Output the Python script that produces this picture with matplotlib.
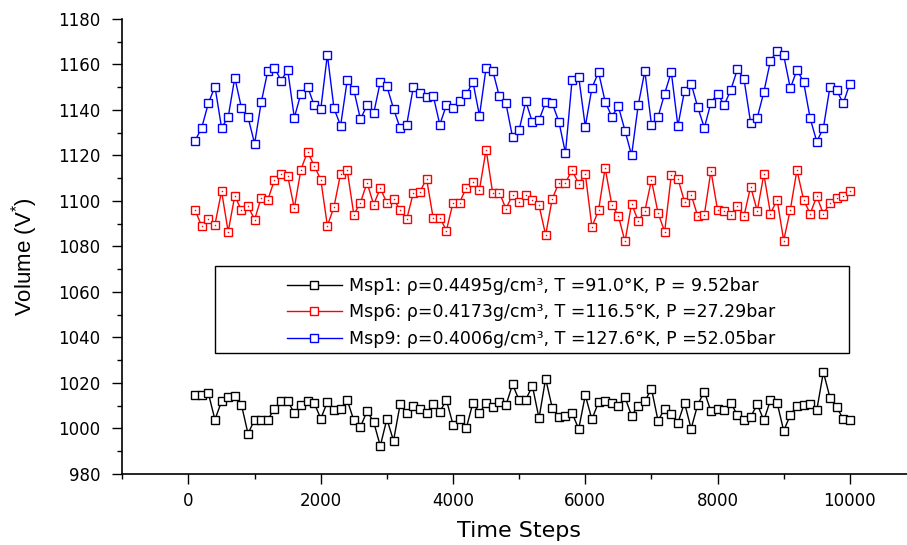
import matplotlib
matplotlib.use("Agg")
import matplotlib.pyplot as plt
from matplotlib.ticker import MultipleLocator
from matplotlib.patches import Rectangle

plt.rcParams['font.family'] = ['DejaVu Sans']
plt.rcParams['mathtext.fontset'] = 'custom'
plt.rcParams['mathtext.rm'] = 'Liberation Sans'
plt.rcParams['mathtext.it'] = 'Liberation Sans:italic'

# time steps (every 100 steps)
steps = list(range(100, 10001, 100))

msp1 = [1014.6, 1014.6, 1015.5, 1003.9, 1011.9, 1014.0, 1014.4, 1010.5, 997.7, 1003.9,
        1003.9, 1003.9, 1008.7, 1012.1, 1012.1, 1006.7, 1010.2, 1012.1, 1011.3, 1004.3,
        1011.6, 1008.1, 1008.6, 1012.5, 1003.6, 1000.7, 1007.6, 1002.9, 992.3, 1004.2,
        994.6, 1010.6, 1006.7, 1009.9, 1008.4, 1006.8, 1010.9, 1007.4, 1012.5, 1001.7,
        1004.2, 1000.1, 1011.2, 1006.8, 1011.2, 1009.3, 1011.6, 1010.2, 1019.4, 1012.4,
        1012.7, 1018.7, 1004.5, 1021.9, 1009.1, 1005.1, 1005.6, 1006.8, 999.8, 1014.6,
        1004.0, 1011.6, 1012.2, 1011.1, 1010.0, 1013.7, 1005.6, 1010.0, 1011.9, 1017.5,
        1003.4, 1008.7, 1006.5, 1002.4, 1011.3, 999.9, 1010.5, 1016.2, 1007.5, 1008.7,
        1008.1, 1011.3, 1005.8, 1003.6, 1005.1, 1010.6, 1003.6, 1012.5, 1011.3, 999.0,
        1005.9, 1010.0, 1010.5, 1010.8, 1008.1, 1024.8, 1013.5, 1009.3, 1004.3, 1003.9]

msp6 = [1096.0, 1088.9, 1092.1, 1089.6, 1104.3, 1086.5, 1102.3, 1095.9, 1097.7, 1091.8,
        1101.5, 1100.6, 1109.2, 1111.7, 1111.0, 1096.8, 1113.8, 1121.7, 1115.5, 1109.4,
        1089.1, 1097.4, 1112.0, 1113.5, 1094.0, 1099.3, 1108.0, 1098.4, 1105.6, 1099.1,
        1101.0, 1096.0, 1092.0, 1103.7, 1104.1, 1109.8, 1092.4, 1092.7, 1087.0, 1099.3,
        1099.3, 1105.9, 1108.5, 1105.0, 1122.6, 1103.4, 1103.7, 1096.6, 1102.6, 1099.4,
        1102.8, 1100.4, 1098.1, 1085.1, 1100.9, 1108.0, 1108.0, 1113.6, 1107.5, 1111.9,
        1088.6, 1095.9, 1114.5, 1098.4, 1093.4, 1082.2, 1098.8, 1091.2, 1095.5, 1109.2,
        1094.7, 1086.5, 1111.3, 1109.8, 1099.7, 1102.8, 1093.3, 1094.0, 1113.3, 1095.9,
        1095.5, 1094.0, 1097.7, 1093.5, 1106.3, 1095.6, 1111.7, 1094.4, 1100.6, 1082.6,
        1096.2, 1113.6, 1100.6, 1094.4, 1102.0, 1094.3, 1099.1, 1101.5, 1102.3, 1104.3]

msp9 = [1126.5, 1132.2, 1142.9, 1150.3, 1132.2, 1136.8, 1154.2, 1141.0, 1136.8, 1125.2,
        1143.4, 1157.3, 1158.6, 1152.9, 1157.6, 1136.6, 1147.2, 1150.3, 1142.1, 1140.3,
        1164.3, 1140.7, 1133.1, 1153.0, 1148.8, 1135.9, 1142.1, 1138.5, 1152.3, 1150.4,
        1140.6, 1132.0, 1133.6, 1150.1, 1147.3, 1145.9, 1146.3, 1133.6, 1142.1, 1141.0,
        1144.1, 1146.8, 1152.4, 1137.5, 1158.5, 1157.3, 1146.0, 1142.9, 1128.0, 1131.3,
        1143.8, 1134.6, 1135.5, 1143.4, 1142.9, 1134.9, 1121.1, 1153.2, 1154.6, 1132.7,
        1149.7, 1156.6, 1143.7, 1137.1, 1141.6, 1130.9, 1120.1, 1142.1, 1157.1, 1133.6,
        1136.9, 1147.2, 1156.7, 1133.0, 1148.4, 1151.6, 1141.2, 1132.2, 1143.2, 1147.2,
        1142.1, 1148.8, 1157.9, 1153.5, 1134.3, 1136.6, 1147.9, 1161.7, 1165.9, 1164.0,
        1149.5, 1157.6, 1152.4, 1136.3, 1126.1, 1132.1, 1150.3, 1148.7, 1142.9, 1151.6]

labels = [
    "Msp1: \u03c1=0.4495g/cm\u00b3, T =91.0\u00b0K, P = 9.52bar",
    "Msp6: \u03c1=0.4173g/cm\u00b3, T =116.5\u00b0K, P =27.29bar",
    "Msp9: \u03c1=0.4006g/cm\u00b3, T =127.6\u00b0K, P =52.05bar",
]
colors = ["#000000", "#ff0000", "#0000ff"]

fig = plt.figure(figsize=(9.07, 5.45), dpi=100)
ax = fig.add_axes([0.1349, 0.1303, 0.875, 0.8349])

for vals, lab, c in zip([msp1, msp6, msp9], labels, colors):
    ax.plot(steps, vals, color=c, lw=1.0, marker='s', markersize=5.2,
            markerfacecolor='white', markeredgecolor=c, markeredgewidth=1.0,
            label=lab)
# small centre dots in the red markers
ax.plot(steps, msp6, ls='none', marker='s', markersize=1, color='#ff0000',
        markeredgewidth=0)

ax.set_xlim(-1000, 11000)
ax.set_ylim(980, 1180)
ax.xaxis.set_major_locator(MultipleLocator(2000))
ax.xaxis.set_minor_locator(MultipleLocator(1000))
ax.yaxis.set_major_locator(MultipleLocator(20))
ax.yaxis.set_minor_locator(MultipleLocator(10))
ax.tick_params(which='major', direction='out', length=7, width=1.0, labelsize=12)
ax.tick_params(which='minor', direction='out', length=3.5, width=1.0)
ax.tick_params(axis='y', pad=9)
ax.tick_params(axis='x', pad=6)
for side in ['top', 'right']:
    ax.spines[side].set_visible(False)
for side in ['left', 'bottom']:
    ax.spines[side].set_linewidth(1.2)

ax.set_xlabel("Time Steps", fontsize=16, labelpad=8)
ax.set_ylabel("Volume (V$^{*}$)", fontsize=16, family='Liberation Sans')
ax.yaxis.set_label_coords(-0.104, 0.478)

leg = ax.legend(loc='center', bbox_to_anchor=(0.515, 0.355), frameon=False,
                fontsize=12.5, handlelength=3.2, handletextpad=0.4,
                labelspacing=0.5, numpoints=1)
ax.add_patch(Rectangle((0.117, 0.266), 0.798, 0.191, transform=ax.transAxes,
                       fill=False, edgecolor='black', lw=1.0, zorder=5))

fig.savefig("out.png", dpi=100)
